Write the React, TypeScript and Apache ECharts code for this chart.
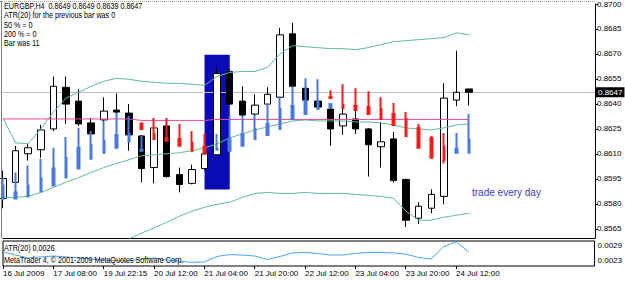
import React, { useEffect, useRef } from 'react';
import * as echarts from 'echarts';

// ---- data ----
const CATEGORIES = [
  '16 Jul 2009', '16 Jul 20:00', '17 Jul 00:00', '17 Jul 04:00', '17 Jul 08:00', '17 Jul 12:00',
  '17 Jul 16:00', '17 Jul 20:00', '19 Jul 22:15', '20 Jul 00:00', '20 Jul 04:00', '20 Jul 08:00',
  '20 Jul 12:00', '20 Jul 16:00', '20 Jul 20:00', '21 Jul 00:00', '21 Jul 04:00', '21 Jul 08:00',
  '21 Jul 12:00', '21 Jul 16:00', '21 Jul 20:00', '22 Jul 00:00', '22 Jul 04:00', '22 Jul 08:00',
  '22 Jul 12:00', '22 Jul 16:00', '22 Jul 20:00', '23 Jul 00:00', '23 Jul 04:00', '23 Jul 08:00',
  '23 Jul 12:00', '23 Jul 16:00', '23 Jul 20:00', '24 Jul 00:00', '24 Jul 04:00', '24 Jul 08:00',
  '24 Jul 12:00', '24 Jul 16:00',
];
const FUTURE_SLOTS = 10;

const OPEN = [0.85833, 0.85929, 0.86101, 0.86125, 0.8625, 0.865, 0.86417, 0.86286, 0.86304, 0.86363, 0.86345, 0.86208, 0.86018, 0.86268, 0.85976, 0.85923, 0.86012, 0.86095, 0.86595, 0.86417, 0.86339, 0.86399, 0.8644, 0.86821, 0.86494, 0.86417, 0.86369, 0.86268, 0.8631, 0.8625, 0.86143, 0.8619, 0.85946, 0.85714, 0.85774, 0.85845, 0.86423, 0.8649];
const CLOSE = [0.85952, 0.86119, 0.86137, 0.86244, 0.86506, 0.86399, 0.8628, 0.8622, 0.86357, 0.86351, 0.86214, 0.86012, 0.86256, 0.85964, 0.85917, 0.86006, 0.86101, 0.86583, 0.86399, 0.86333, 0.86393, 0.86458, 0.86815, 0.86506, 0.86423, 0.86381, 0.8625, 0.86339, 0.8625, 0.86155, 0.86173, 0.8594, 0.85702, 0.85786, 0.85857, 0.86435, 0.8647, 0.8647];
const LOW = [0.85774, 0.85923, 0.8606, 0.86077, 0.86238, 0.8628, 0.86268, 0.86208, 0.86292, 0.86321, 0.86119, 0.85929, 0.85923, 0.85958, 0.85869, 0.85917, 0.86, 0.86089, 0.86393, 0.86327, 0.86327, 0.86393, 0.86435, 0.865, 0.86417, 0.86375, 0.86149, 0.86214, 0.8622, 0.85964, 0.86018, 0.85929, 0.85661, 0.85679, 0.85744, 0.85798, 0.86387, 0.8639];
const HIGH = [0.86, 0.86149, 0.86161, 0.86274, 0.86565, 0.86565, 0.86488, 0.86315, 0.8644, 0.86464, 0.86399, 0.86214, 0.86315, 0.86315, 0.86018, 0.86036, 0.86119, 0.86619, 0.86607, 0.86506, 0.86458, 0.865, 0.86857, 0.86887, 0.865, 0.86423, 0.86375, 0.86381, 0.86375, 0.86256, 0.86292, 0.86232, 0.85952, 0.8581, 0.85887, 0.86524, 0.8672, 0.8649];

// overlay bars: [bodyTop, bodyBottom, low, high] or null
const BLUE_BARS: (number[] | null)[] = [
  [0.85911, 0.85833, 0.85821, 0.85952], [0.85869, 0.85833, 0.85833, 0.85988], [0.85911, 0.85845, 0.85845, 0.8603],
  [0.85952, 0.85875, 0.85875, 0.86071], [0.86012, 0.85911, 0.85911, 0.86137], [0.86077, 0.85958, 0.85958, 0.86202],
  [0.86137, 0.86012, 0.86012, 0.86256], [0.86155, 0.86071, 0.86071, 0.86238], [0.86179, 0.86107, 0.86107, 0.86298],
  [0.86214, 0.86137, 0.86137, 0.86345], [0.8622, 0.86173, 0.86173, 0.86327], [0.86125, 0.86119, 0.86119, 0.86208],
  null, null, null, null, null,
  [0.86131, 0.86125, 0.86125, 0.8622], [0.8619, 0.86119, 0.86119, 0.86327], [0.8622, 0.86149, 0.86149, 0.86327],
  [0.8625, 0.8619, 0.8619, 0.86333], [0.8628, 0.86214, 0.86214, 0.86399], [0.86369, 0.8625, 0.8625, 0.86446],
  [0.86387, 0.8631, 0.8631, 0.86506], [0.86417, 0.86339, 0.86339, 0.86554], [0.86417, 0.86369, 0.86369, 0.86548],
  [0.86399, 0.86381, 0.86381, 0.86399],
  null, null, null, null, null, null, null, null, null,
  [0.86131, 0.86107, 0.86107, 0.86226], [0.86185, 0.86107, 0.86107, 0.86339],
];
const RED_BARS: (number[] | null)[] = [
  null, null, null, null, null, null, null, null, null, null, null,
  [0.8628, 0.8625, 0.8625, 0.86292], [0.8622, 0.8619, 0.8619, 0.86315], [0.86196, 0.86179, 0.86179, 0.86315],
  [0.8619, 0.86149, 0.86149, 0.8628], [0.86167, 0.86119, 0.86119, 0.86238], [0.86143, 0.86101, 0.86101, 0.8622],
  null, null, null, null, null, null, null, null, null,
  [0.86441, 0.86435, 0.86435, 0.86482], [0.86393, 0.86375, 0.86375, 0.86518], [0.86387, 0.86363, 0.86363, 0.86494],
  [0.86381, 0.86339, 0.86339, 0.86476], [0.86369, 0.8631, 0.8631, 0.8644], [0.86339, 0.86274, 0.86274, 0.86405],
  [0.8631, 0.86208, 0.86208, 0.86351], [0.86256, 0.86137, 0.86137, 0.8628], [0.86196, 0.86077, 0.86077, 0.86208],
  [0.86143, 0.86065, 0.86042, 0.86226],
  null, null,
];

const BB_UPPER = [0.86315, 0.86167, 0.86161, 0.8625, 0.86351, 0.86435, 0.8647, 0.86506, 0.86536, 0.86554, 0.86548, 0.86536, 0.8653, 0.86524, 0.86524, 0.86518, 0.86512, 0.86565, 0.86589, 0.86595, 0.86595, 0.86619, 0.86702, 0.8675, 0.86744, 0.86738, 0.86732, 0.86732, 0.86726, 0.86738, 0.86756, 0.86774, 0.8678, 0.86786, 0.86792, 0.86798, 0.86827, 0.86815];
const BB_MIDDLE = [0.85839, 0.85839, 0.85845, 0.85869, 0.85899, 0.85929, 0.85958, 0.85988, 0.86018, 0.86042, 0.86065, 0.86089, 0.86095, 0.86101, 0.86107, 0.86119, 0.86137, 0.86161, 0.86196, 0.8622, 0.86244, 0.86262, 0.8628, 0.86298, 0.86304, 0.86298, 0.86298, 0.86298, 0.86292, 0.86292, 0.86286, 0.86274, 0.86256, 0.8625, 0.86244, 0.86256, 0.86274, 0.8628];
const BB_LOWER = [0.85363, 0.85512, 0.8553, 0.85488, 0.85447, 0.85423, 0.85447, 0.8547, 0.855, 0.8553, 0.85589, 0.85625, 0.85655, 0.8569, 0.85726, 0.85756, 0.8578, 0.85798, 0.8581, 0.85839, 0.85863, 0.85869, 0.85863, 0.85863, 0.85869, 0.85863, 0.85863, 0.85863, 0.85857, 0.85851, 0.85845, 0.85833, 0.85756, 0.85702, 0.85702, 0.8572, 0.85732, 0.85744];
const MA_LINE = [0.8631, 0.8631, 0.8631, 0.8631, 0.8631, 0.8631, 0.8631, 0.8631, 0.8631, 0.8631, 0.8631, 0.86301, 0.86301, 0.86301, 0.86301, 0.86301, 0.86301, 0.86307, 0.86307, 0.86307, 0.86307, 0.86307, 0.86307, 0.86307, 0.86307, 0.86307, 0.86307, 0.86307, 0.86307, 0.86307, 0.86307, 0.86307, 0.86307, 0.86307, 0.86307, 0.86307, 0.86307, 0.86307];
const ATR = [0.00264, 0.00251, 0.00239, 0.00243, 0.00247, 0.00243, 0.00239, 0.00234, 0.0023, 0.00228, 0.00226, 0.00234, 0.00239, 0.0023, 0.00226, 0.0022, 0.00222, 0.00245, 0.00253, 0.00251, 0.00247, 0.00232, 0.00245, 0.0026, 0.00262, 0.00258, 0.00251, 0.00251, 0.00258, 0.00262, 0.00262, 0.0026, 0.00255, 0.00241, 0.00234, 0.00285, 0.00307, 0.00264];

const PRICE_TICKS = [0.8565, 0.858, 0.8595, 0.861, 0.8625, 0.864, 0.8655, 0.867, 0.8685, 0.87];
const ATR_TICKS = [0.0023, 0.0029];
const CURRENT_PRICE = 0.8647;
const HEADER_LINES = [
  'EURGBP,H4  0.8649 0.8649 0.8639 0.8647',
  'ATR(20) for the previous bar was 0',
  '50 % = 0',
  '200 % = 0',
  'Bar was 11',
];
const ATR_TITLE = 'ATR(20) 0.0026';
const COPYRIGHT = 'MetaTrader 4, © 2001-2009 MetaQuotes Software Corp.';
const NOTE = 'trade every day';
// highlighted zone (category range and price range)
const ZONE = { from: '21 Jul 04:00', to: '21 Jul 12:00', top: 0.86696, bottom: 0.85887 };

const PRICE_MAX = 0.87;
const PRICE_MIN = 0.8559524;
const ATR_MIN = 0.00205;
const ATR_MAX = 0.0031;

const FONT = "'Liberation Sans', Arial, sans-serif";
const NARROW = "'Liberation Sans Narrow', 'Liberation Sans', Arial, sans-serif";

function buildOption() {
  const n = CATEGORIES.length;
  const cats = CATEGORIES.concat(Array.from({ length: FUTURE_SLOTS }, (_, k) => `future${k + 1}`));
  const candles = CATEGORIES.map((_, i) => [OPEN[i], CLOSE[i], LOW[i], HIGH[i]]);
  const toItems = (arr: (number[] | null)[]) => arr.map((b) => (b ? b : ['-', '-', '-', '-']));
  const showIdx = (i: number) => i % 4 === 0 && i < n;
  const green = '#5fbf8f';
  const lineBase = { type: 'line', xAxisIndex: 0, yAxisIndex: 0, symbol: 'none', showSymbol: false, silent: true, z: 3 };

  const overlay = (data: any[], color: string) => ({
    type: 'candlestick', xAxisIndex: 0, yAxisIndex: 0, data, barWidth: 2, silent: true, z: 4,
    itemStyle: { color, color0: color, borderColor: color, borderColor0: color, borderWidth: 2 },
  });

  const small = (text: string, x: number, y: number) => ({
    type: 'text', x, y, z: 100, scaleX: 0.8, silent: true,
    style: { text, fill: '#000', fontSize: 9, fontFamily: FONT, verticalAlign: 'middle' },
  });

  return {
    animation: false,
    backgroundColor: '#fff',
    grid: [
      { left: 3, right: 30, top: 2, height: 236, show: false },
      { left: 3, right: 30, top: 241, height: 25, show: true, borderColor: '#000', borderWidth: 1 },
    ],
    xAxis: [
      {
        type: 'category', gridIndex: 0, data: cats, boundaryGap: false,
        axisLine: { show: true, lineStyle: { color: '#000' } }, axisTick: { show: false }, axisLabel: { show: false }, splitLine: { show: false },
      },
      {
        type: 'category', gridIndex: 1, data: cats, boundaryGap: false,
        axisLine: { show: false },
        axisTick: { show: true, length: 3, interval: (i: number) => showIdx(i), lineStyle: { color: '#000' } },
        axisLabel: { interval: (i: number) => showIdx(i), align: 'left', margin: 3, fontSize: 8, color: '#000', fontFamily: NARROW },
        splitLine: { show: false },
      },
    ],
    yAxis: [
      {
        type: 'value', gridIndex: 0, position: 'right', min: PRICE_MIN, max: PRICE_MAX,
        axisLine: { show: true, lineStyle: { color: '#000' } },
        axisTick: { show: true, length: 3, customValues: PRICE_TICKS, lineStyle: { color: '#000' } },
        axisLabel: { customValues: PRICE_TICKS, formatter: (v: number) => v.toFixed(4), fontSize: 8, color: '#000', margin: 2, fontFamily: FONT },
        splitLine: { show: false },
      },
      {
        type: 'value', gridIndex: 1, position: 'right', min: ATR_MIN, max: ATR_MAX,
        axisLine: { show: false }, axisTick: { show: false },
        axisLabel: { customValues: ATR_TICKS, formatter: (v: number) => v.toFixed(4), fontSize: 8, color: '#000', margin: 3, fontFamily: FONT },
        splitLine: { show: false },
      },
    ],
    series: [
      {
        type: 'candlestick', name: 'EURGBP', xAxisIndex: 0, yAxisIndex: 0, data: candles, barWidth: 7, z: 2, silent: true,
        itemStyle: { color: '#fff', color0: '#000', borderColor: '#000', borderColor0: '#000', borderWidth: 1 },
        markArea: {
          silent: true, z: 1,
          itemStyle: { color: '#0b0bb5', opacity: 1 },
          data: [[{ xAxis: ZONE.from, yAxis: ZONE.top }, { xAxis: ZONE.to, yAxis: ZONE.bottom }]],
        },
      },
      { ...lineBase, name: 'BB upper', data: BB_UPPER, lineStyle: { color: green, width: 1 } },
      { ...lineBase, name: 'BB middle', data: BB_MIDDLE, lineStyle: { color: green, width: 1 } },
      { ...lineBase, name: 'BB lower', data: BB_LOWER, lineStyle: { color: green, width: 1 } },
      {
        ...lineBase, name: 'MA', data: MA_LINE, lineStyle: { color: '#f0489a', width: 1 },
        markLine: {
          silent: true, z: 1, precision: 5, symbol: ['none', 'none'],
          lineStyle: { color: '#c0c0c0', width: 1, type: 'solid' },
          label: {
            show: true, position: 'end', distance: 1, formatter: CURRENT_PRICE.toFixed(4), color: '#fff',
            backgroundColor: '#000', padding: [1, 2, 1, 2], fontSize: 8, fontFamily: FONT,
          },
          data: [{ yAxis: CURRENT_PRICE }],
        },
      },
      overlay(toItems(BLUE_BARS), '#4a78e0'),
      overlay(toItems(RED_BARS), '#ff1a1a'),
      {
        type: 'line', name: 'ATR', xAxisIndex: 1, yAxisIndex: 1, data: ATR, symbol: 'none', silent: true,
        lineStyle: { color: '#4aa3ff', width: 1 },
      },
    ],
    graphic: [
      { type: 'line', z: 100, silent: true, shape: { x1: 0, y1: 1.5, x2: 595, y2: 1.5 }, style: { stroke: '#9a9a9a', lineWidth: 1, lineDash: [1, 1] } },
      { type: 'line', z: 100, silent: true, shape: { x1: 1.5, y1: 1, x2: 1.5, y2: 238 }, style: { stroke: '#808080', lineWidth: 1 } },
      ...HEADER_LINES.map((t, i) => small(t, 4, 6 + i * 9.4)),
      small(ATR_TITLE, 4, 248),
      small(COPYRIGHT, 4, 260),
      {
        type: 'text', x: 472, y: 192, z: 100, silent: true,
        style: { text: NOTE, fill: '#3b3bd8', fontSize: 10, fontFamily: FONT, verticalAlign: 'middle' },
      },
    ],
  };
}

export default function App() {
  const ref = useRef<HTMLDivElement>(null);
  useEffect(() => {
    document.body.style.margin = '0';
    const chart = echarts.init(ref.current as HTMLDivElement, null, { renderer: 'svg' });
    chart.setOption(buildOption() as any);
    return () => chart.dispose();
  }, []);
  return <div ref={ref} style={{ width: 625, height: 281 }} />;
}
